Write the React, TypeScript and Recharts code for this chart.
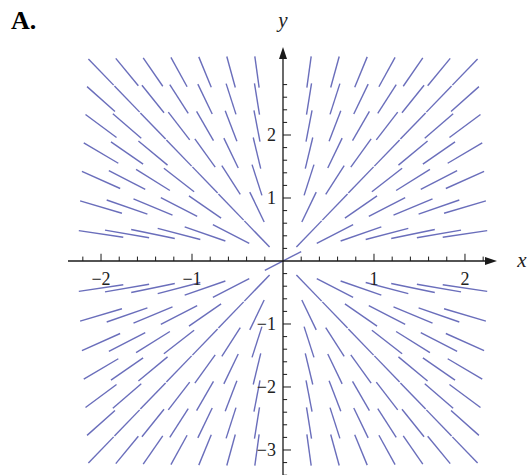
import React from "react";
import {
  ScatterChart,
  Scatter,
  XAxis,
  YAxis,
  ReferenceLine,
  ReferenceDot,
} from "recharts";

// slope field dy/dx = y/x sampled on a 15 x 15 grid
const xCols = [
  -2, -1.714, -1.429, -1.143, -0.857, -0.571, -0.286, 0, 0.286, 0.571, 0.857,
  1.143, 1.429, 1.714, 2,
];
const yRows = [
  -3, -2.571, -2.143, -1.714, -1.286, -0.857, -0.429, 0, 0.429, 0.857, 1.286,
  1.714, 2.143, 2.571, 3,
];
// the field is undefined at the origin; this is the slope drawn there
const originSlope = 0.75;

const xMajorTicks = [-2, -1, 1, 2];
const xMajorLabels = ["−2", "−1", "1", "2"];
const xMinorTicks = [
  -2.2, -1.8, -1.6, -1.4, -1.2, -0.8, -0.6, -0.4, -0.2, 0.2, 0.4, 0.6, 0.8,
  1.2, 1.4, 1.6, 1.8, 2.2,
];
const yMajorTicks = [-3, -2, -1, 1, 2];
const yMajorLabels = ["−3", "−2", "−1", "1", "2"];
const yMinorTicks = [
  -3.4, -3.2, -2.8, -2.6, -2.4, -2.2, -1.8, -1.6, -1.4, -1.2, -0.8, -0.6, -0.4,
  -0.2, 0.2, 0.4, 0.6, 0.8, 1.2, 1.4, 1.6, 1.8, 2.2, 2.4, 2.6, 2.8,
];

const X_MIN = -2.363;
const X_MAX = 2.352;
const Y_MIN = -3.397;
const Y_MAX = 3.397;

const SEG_HALF = 0.25;
const SEG_COLOR = "#6a6ebb";
const AXIS_COLOR = "#1a1a1a";
const SERIF = "'Liberation Serif', 'Times New Roman', serif";

type Seg = { key: string; x1: number; y1: number; x2: number; y2: number };

const segments: Seg[] = [];
xCols.forEach((x) => {
  yRows.forEach((y) => {
    let m: number;
    if (x === 0 && y === 0) m = originSlope;
    else if (x === 0 || y === 0) return; // lies under an axis
    else m = y / x;
    const t = Math.atan(m);
    const dx = SEG_HALF * Math.cos(t);
    const dy = SEG_HALF * Math.sin(t);
    segments.push({ key: `${x}_${y}`, x1: x - dx, y1: y - dy, x2: x + dx, y2: y + dy });
  });
});

// axis line with an arrow head at its far end
const ArrowLine = (p: any) => {
  const { x1, y1, x2, y2 } = p;
  const ang = Math.atan2(y2 - y1, x2 - x1);
  const len = 12;
  const w = 4;
  const bx = x2 - len * Math.cos(ang);
  const by = y2 - len * Math.sin(ang);
  const nx = -Math.sin(ang) * w;
  const ny = Math.cos(ang) * w;
  return (
    <g>
      <line x1={x1} y1={y1} x2={bx} y2={by} stroke={AXIS_COLOR} strokeWidth={1.3} />
      <polygon
        points={`${x2},${y2} ${bx + nx},${by + ny} ${bx - nx},${by - ny}`}
        fill={AXIS_COLOR}
      />
    </g>
  );
};

const labelStyle = { fontFamily: SERIF, fontSize: 18 };
const nameStyle = { fontFamily: SERIF, fontSize: 21, fontStyle: "italic" as const };

export default function App() {
  return (
    <div
      style={{
        position: "absolute",
        left: 0,
        top: 0,
        width: 529,
        height: 475,
        background: "#fff",
        overflow: "hidden",
      }}
    >
      <div
        style={{
          position: "absolute",
          left: 11,
          top: 8,
          fontFamily: SERIF,
          fontWeight: "bold",
          fontSize: 26,
          lineHeight: "26px",
          color: "#000",
        }}
      >
        A.
      </div>
      <ScatterChart
        width={529}
        height={475}
        margin={{ top: 47, right: 32, bottom: 0, left: 68 }}
      >
        <XAxis type="number" dataKey="x" domain={[X_MIN, X_MAX]} hide allowDataOverflow />
        <YAxis type="number" dataKey="y" domain={[Y_MIN, Y_MAX]} hide allowDataOverflow />
        <Scatter data={[]} isAnimationActive={false} />

        {segments.map((s) => (
          <ReferenceLine
            key={s.key}
            segment={[
              { x: s.x1, y: s.y1 },
              { x: s.x2, y: s.y2 },
            ]}
            stroke={SEG_COLOR}
            strokeWidth={1.4}
            ifOverflow="visible"
          />
        ))}

        {/* axes */}
        <ReferenceLine
          segment={[
            { x: X_MIN, y: 0 },
            { x: X_MAX, y: 0 },
          ]}
          ifOverflow="visible"
          shape={ArrowLine}
        />
        <ReferenceLine
          segment={[
            { x: 0, y: Y_MIN },
            { x: 0, y: Y_MAX },
          ]}
          ifOverflow="visible"
          shape={ArrowLine}
        />

        {/* x ticks point up, y ticks point right */}
        {xMinorTicks.map((t) => (
          <ReferenceLine
            key={`xm${t}`}
            segment={[
              { x: t, y: 0 },
              { x: t, y: 0.07 },
            ]}
            stroke={AXIS_COLOR}
            strokeWidth={1}
            ifOverflow="visible"
          />
        ))}
        {xMajorTicks.map((t) => (
          <ReferenceLine
            key={`xM${t}`}
            segment={[
              { x: t, y: 0 },
              { x: t, y: 0.115 },
            ]}
            stroke={AXIS_COLOR}
            strokeWidth={1}
            ifOverflow="visible"
          />
        ))}
        {yMinorTicks.map((t) => (
          <ReferenceLine
            key={`ym${t}`}
            segment={[
              { x: 0, y: t },
              { x: 0.045, y: t },
            ]}
            stroke={AXIS_COLOR}
            strokeWidth={1}
            ifOverflow="visible"
          />
        ))}
        {yMajorTicks.map((t) => (
          <ReferenceLine
            key={`yM${t}`}
            segment={[
              { x: 0, y: t },
              { x: 0.088, y: t },
            ]}
            stroke={AXIS_COLOR}
            strokeWidth={1}
            ifOverflow="visible"
          />
        ))}

        {/* tick labels */}
        {xMajorTicks.map((t, i) => (
          <ReferenceDot
            key={`xl${t}`}
            x={t}
            y={0}
            ifOverflow="visible"
            shape={(p: any) => (
              <text x={p.cx} y={p.cy + 24} textAnchor="middle" style={labelStyle} fill="#222">
                {xMajorLabels[i]}
              </text>
            )}
          />
        ))}
        {yMajorTicks.map((t, i) => (
          <ReferenceDot
            key={`yl${t}`}
            x={0}
            y={t}
            ifOverflow="visible"
            shape={(p: any) => (
              <text x={p.cx - 7} y={p.cy + 6} textAnchor="end" style={labelStyle} fill="#222">
                {yMajorLabels[i]}
              </text>
            )}
          />
        ))}

        {/* axis names */}
        <ReferenceDot
          x={X_MAX}
          y={0}
          ifOverflow="visible"
          shape={(p: any) => (
            <text x={p.cx + 25} y={p.cy + 6} textAnchor="middle" style={nameStyle} fill="#222">
              x
            </text>
          )}
        />
        <ReferenceDot
          x={0}
          y={Y_MAX}
          ifOverflow="visible"
          shape={(p: any) => (
            <text x={p.cx} y={p.cy - 20} textAnchor="middle" style={nameStyle} fill="#222">
              y
            </text>
          )}
        />
      </ScatterChart>
    </div>
  );
}
